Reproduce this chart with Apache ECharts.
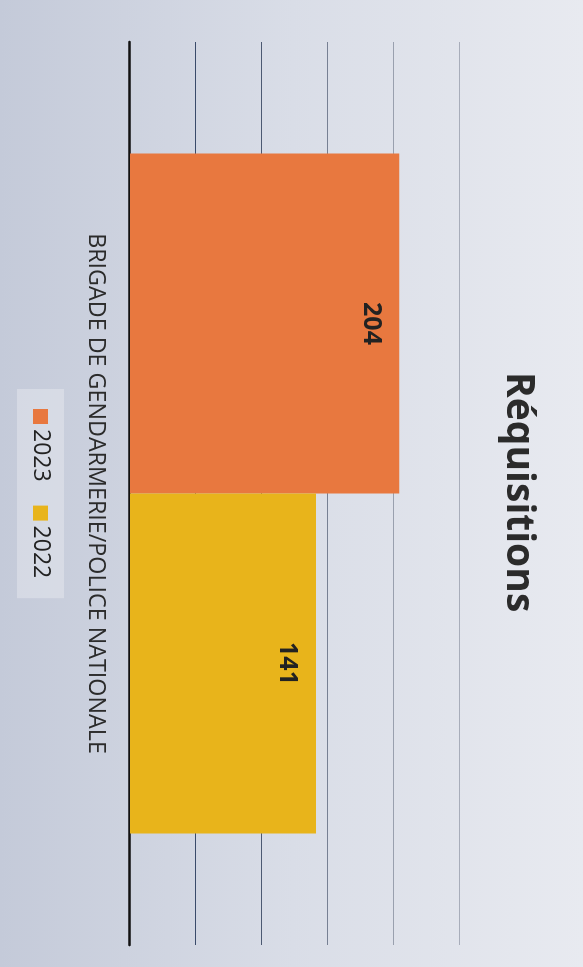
<!DOCTYPE html>
<html>
<head>
<meta charset="utf-8">
<script src="https://cdn.jsdelivr.net/npm/echarts@6/dist/echarts.min.js"></script>
<style>
	html, body { margin: 0; padding: 0; width: 583px; height: 967px; overflow: hidden; background: #d6dae4; }
	/* the photo is turned a quarter turn clockwise: draw upright, then rotate */
	#main { position: absolute; left: -192px; top: 192px; width: 967px; height: 583px; transform: rotate(90deg); transform-origin: 50% 50%; }
</style>
</head>
<body>
<div id="main"></div>
<script>
var categories = ['BRIGADE DE GENDARMERIE/POLICE NATIONALE'];
var years = ['2023', '2022'];
var values2023 = [204];
var values2022 = [141];
var colors = ['#e8783f', '#e8b41b'];

var font = '"Open Sans", sans-serif';

var option = {
	backgroundColor: {
		type: 'linear', x: 0, y: 0, x2: 0, y2: 1,
		colorStops: [
			{ offset: 0, color: '#e8eaf0' },
			{ offset: 0.5, color: '#d9dde7' },
			{ offset: 1, color: '#c4cad9' }
		]
	},
	title: {
		text: 'Réquisitions',
		left: 372,
		top: 40,
		padding: [5, 0],
		textStyle: { fontFamily: font, fontSize: 39, fontWeight: 'bold', color: '#2b2b2b' }
	},
	legend: {
		data: years,
		left: 389,
		top: 519,
		padding: [12, 20],
		itemGap: 24,
		itemWidth: 15,
		itemHeight: 15,
		icon: 'rect',
		backgroundColor: 'rgba(255,255,255,0.28)',
		textStyle: { fontFamily: font, fontSize: 23, color: '#222' }
	},
	grid: { left: 42, right: 22, top: 123, bottom: 130 },
	xAxis: {
		type: 'category',
		data: categories,
		axisTick: { show: false },
		axisLine: { lineStyle: { color: '#111', width: 2.5 } },
		axisLabel: { fontFamily: font, fontSize: 23.3, color: '#2b2b2b', margin: 23 }
	},
	yAxis: {
		type: 'value',
		min: 0,
		max: 250,
		interval: 50,
		axisLabel: { show: false },
		splitLine: {
			lineStyle: {
				width: 1.2,
				// darker near the base line, fading out towards the top
				color: ['#222', '#3a4b6a', '#4c5972', '#778093', '#99a0ae', '#a8adba']
			}
		}
	},
	series: [{
		name: years[0],
		type: 'bar',
		barWidth: 340,
		barGap: '0%',
		itemStyle: { color: colors[0] },
		label: {
			show: true,
			position: 'insideTop',
			distance: 16,
			fontFamily: font, fontSize: 25, fontWeight: 'bold', color: '#222'
		},
		data: values2023
	}, {
		name: years[1],
		type: 'bar',
		barWidth: 340,
		barGap: '0%',
		itemStyle: { color: colors[1] },
		label: {
			show: true,
			position: 'insideTop',
			distance: 16,
			fontFamily: font, fontSize: 25, fontWeight: 'bold', color: '#222'
		},
		data: values2022
	}]
};

echarts.init(document.getElementById('main')).setOption(option);
</script>
</body>
</html>
